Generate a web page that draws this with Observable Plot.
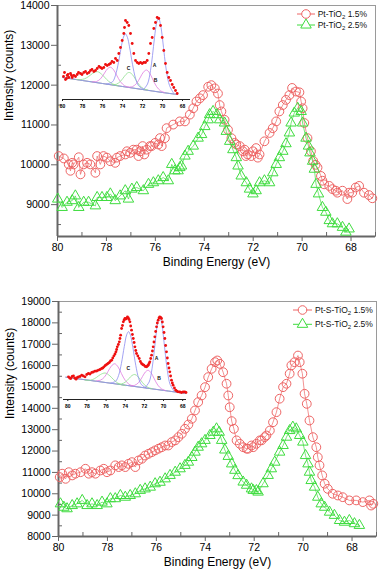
<!DOCTYPE html>
<html>
<head>
<meta charset="utf-8">
<script src="https://cdn.jsdelivr.net/npm/d3@7"></script>
<script src="https://cdn.jsdelivr.net/npm/@observablehq/plot@0.6"></script>
<style>
  html, body { margin: 0; padding: 0; background: #fff; }
  #c { position: relative; width: 380px; height: 571px; overflow: hidden; font-family: "Liberation Sans", Arial, sans-serif; }
  #c > div, #c > svg { position: absolute; }
</style>
</head>
<body>
<div id="c"></div>
<script>
// ---------------- DATA ----------------
const seriesNames = ["Pt-TiO2 1.5%", "Pt-TiO2 2.5%", "Pt-S-TiO2 1.5%", "Pt-S-TiO2 2.5%"];
const energyTicks = [80, 78, 76, 74, 72, 70, 68];
const energyMinor = [79, 77, 75, 73, 71, 69, 67];
const topIntensityTicks = [9000, 10000, 11000, 12000, 13000, 14000];
const topIntensityMinor = [8500, 9500, 10500, 11500, 12500, 13500];
const bottomIntensityTicks = [8000, 9000, 10000, 11000, 12000, 13000, 14000, 15000, 16000, 17000, 18000, 19000];
const bottomIntensityMinor = [8500, 9500, 10500, 11500, 12500, 13500, 14500, 15500, 16500, 17500, 18500];
const insetTicks = [80, 78, 76, 74, 72, 70, 68];

// [binding energy eV, intensity counts]
const ptTiO2_15 = [[79.95,10220],[79.74,10160],[79.54,10010],[79.47,9850],[79.40,10050],[79.34,10010],[79.13,10190],[79.06,9760],[78.93,10010],[78.79,10050],[78.66,10010],[78.45,9800],[78.38,10220],[78.25,10010],[78.12,10220],[77.98,10180],[77.84,10090],[77.64,10050],[77.57,10180],[77.44,10220],[77.23,10260],[77.16,10340],[77.03,10300],[76.90,10380],[76.76,10380],[76.69,10220],[76.62,10340],[76.52,10470],[76.45,10260],[76.35,10380],[76.22,10470],[76.15,10470],[76.01,10550],[75.88,10510],[75.81,10670],[75.74,10470],[75.61,10670],[75.54,10920],[75.27,11010],[75.00,11090],[74.79,11090],[74.59,11260],[74.45,11420],[74.32,11590],[74.18,11670],[74.05,11750],[73.84,11960],[73.71,12000],[73.57,11920],[73.44,11790],[73.37,11500],[73.30,11340],[73.17,11130],[73.03,10880],[72.89,10670],[72.76,10550],[72.69,10510],[72.55,10470],[72.42,10340],[72.35,10380],[72.30,10220],[72.22,10260],[72.08,10220],[72.01,10340],[71.88,10420],[71.81,10180],[71.74,10260],[71.54,10590],[71.33,10800],[71.20,10920],[71.06,11090],[70.93,11340],[70.79,11500],[70.66,11630],[70.52,11750],[70.41,11930],[70.25,11840],[70.11,11820],[70.04,11590],[69.98,11420],[69.91,11050],[69.78,10670],[69.64,10340],[69.55,10100],[69.45,10000],[69.37,9930],[69.23,9720],[69.17,9600],[69.10,9510],[68.89,9470],[68.76,9390],[68.62,9350],[68.56,9300],[68.35,9350],[68.15,9140],[68.08,9300],[67.95,9300],[67.81,9430],[67.67,9470],[67.47,9300],[67.27,9240],[67.13,9160]];

const ptTiO2_25 = [[79.99,9140],[79.81,8930],[79.61,9060],[79.40,9100],[79.27,9220],[79.13,8930],[78.93,9060],[78.73,9060],[78.45,8970],[78.38,9180],[78.18,9180],[77.98,9180],[77.84,9270],[77.64,9100],[77.44,9220],[77.23,9350],[77.10,9140],[76.96,9390],[76.76,9430],[76.49,9350],[76.28,9510],[76.08,9550],[75.88,9600],[75.68,9680],[75.47,9600],[75.33,10010],[75.20,9850],[75.07,9850],[75.00,9930],[74.93,9970],[74.79,10220],[74.66,10340],[74.45,10470],[74.25,10670],[74.11,10760],[73.98,10960],[73.84,11130],[73.78,11260],[73.64,11340],[73.48,11260],[73.37,11130],[73.17,11050],[73.10,10840],[72.96,10590],[72.83,10380],[72.69,10180],[72.62,9970],[72.49,9720],[72.28,9550],[72.15,9390],[72.01,9270],[71.88,9350],[71.74,9550],[71.54,9600],[71.33,9550],[71.20,9800],[71.06,10010],[70.93,10180],[70.79,10340],[70.66,10530],[70.52,10800],[70.45,11050],[70.32,11300],[70.18,11420],[70.04,11340],[69.98,11050],[69.84,10670],[69.74,10470],[69.68,10300],[69.57,10090],[69.50,9890],[69.43,9510],[69.33,9270],[69.17,8930],[69.03,8810],[68.89,8600],[68.76,8520],[68.56,8520],[68.35,8430],[68.21,8310],[68.08,8390]];

const ptSTiO2_15 = [[79.95,10780],[79.85,10940],[79.71,10700],[79.58,11010],[79.44,10860],[79.31,10940],[79.10,11010],[78.90,11170],[78.76,10940],[78.63,11010],[78.49,10940],[78.29,11090],[78.15,11170],[78.02,11010],[77.88,11090],[77.68,11330],[77.54,11250],[77.41,11330],[77.27,11250],[77.14,11400],[77.00,11480],[76.86,11250],[76.73,11560],[76.59,11640],[76.46,11790],[76.32,11870],[76.18,11950],[76.05,12030],[75.91,12110],[75.78,12180],[75.64,12260],[75.51,12260],[75.37,12420],[75.23,12500],[75.10,12650],[74.96,12810],[74.83,13040],[74.69,13240],[74.55,13510],[74.42,13900],[74.29,14290],[74.15,14600],[74.01,14990],[73.88,15460],[73.74,15850],[73.60,16160],[73.51,16240],[73.40,16080],[73.27,15690],[73.13,15150],[73.06,14600],[73.00,14050],[72.92,13400],[72.83,13040],[72.72,12500],[72.59,12340],[72.45,12180],[72.31,12110],[72.25,12110],[72.11,12260],[72.04,12180],[71.91,12340],[71.77,12500],[71.70,12500],[71.57,12650],[71.50,12730],[71.36,12960],[71.23,13350],[71.09,13820],[70.96,14450],[70.82,14990],[70.68,15150],[70.55,15620],[70.48,16010],[70.35,16160],[70.21,16470],[70.14,16160],[70.03,15620],[69.94,14680],[69.85,14210],[69.74,13430],[69.60,12650],[69.46,12180],[69.40,11710],[69.33,11330],[69.22,10860],[69.12,10470],[68.99,10230],[68.79,10000],[68.58,9920],[68.38,9840],[68.11,9690],[67.83,9690],[67.56,9610],[67.29,9690],[67.22,9450],[67.13,9530]];

const ptSTiO2_25 = [[79.92,9530],[79.78,9370],[79.65,9300],[79.44,9450],[79.24,9530],[79.03,9690],[78.83,9450],[78.63,9530],[78.42,9450],[78.22,9610],[78.02,9530],[77.88,9770],[77.68,9770],[77.47,9920],[77.27,9840],[77.07,9920],[76.86,10000],[76.66,10160],[76.46,10230],[76.25,10310],[76.05,10470],[75.85,10540],[75.64,10700],[75.44,10860],[75.23,11010],[75.03,11170],[74.83,11330],[74.69,11480],[74.55,11700],[74.42,11950],[74.29,12180],[74.15,12340],[74.01,12500],[73.81,12730],[73.67,12880],[73.54,13040],[73.43,12880],[73.33,12500],[73.20,12050],[73.06,11750],[72.92,11400],[72.79,11100],[72.66,10850],[72.45,10550],[72.31,10400],[72.11,10230],[72.04,10160],[71.91,10150],[71.84,10080],[71.64,10470],[71.43,10860],[71.30,11170],[71.16,11480],[70.96,11950],[70.82,12260],[70.68,12650],[70.55,12960],[70.42,13120],[70.28,13040],[70.14,12730],[70.01,12420],[69.90,11790],[69.80,11400],[69.74,11010],[69.67,10620],[69.53,10310],[69.40,9840],[69.26,9530],[69.12,9370],[68.92,9140],[68.72,8990],[68.51,8750],[68.31,8670],[68.11,8750],[67.90,8600],[67.70,8520]];

// Insets: [binding energy eV, intensity a.u.]
const insetTopPoints = [[79.9,23],[79.8,27],[79.7,20],[79.6,21],[79.53,24],[79.45,25],[79.37,22],[79.2,26],[79.1,24],[79.03,22],[78.87,24],[78.7,23],[78.53,25],[78.4,27],[78.2,26],[78.05,25],[77.87,27],[77.7,28],[77.53,26],[77.35,27],[77.2,29],[77.05,30],[76.87,28],[76.7,29],[76.53,31],[76.35,33],[76.2,32],[76.05,31],[75.87,32],[75.7,35],[75.53,34],[75.35,35],[75.2,36],[75.05,38],[74.87,37],[74.7,41],[74.53,39],[74.37,46],[74.2,52],[74.03,59],[73.87,66],[73.8,72],[73.7,79],[73.53,77],[73.37,74],[73.2,66],[73.03,56],[72.87,46],[72.7,39],[72.53,37],[72.37,36],[72.2,37],[72.03,36],[71.87,37],[71.7,37],[71.53,39],[71.37,46],[71.2,56],[71.03,62],[70.87,71],[70.7,77],[70.53,82],[70.37,81],[70.2,74],[70.03,62],[69.87,49],[69.7,36],[69.53,27],[69.37,22],[69.2,19],[69.03,15],[68.87,12],[68.7,9],[68.53,6]];
const insetTopBaseline = [[80.0,22],[78.0,19],[76.0,16],[74.0,13],[72.0,10],[70.0,7],[68.5,5]];
const insetTopPeak1 = [[75.6,15.5],[75.0,17.7],[74.7,24.3],[74.4,37.2],[74.1,53.9],[73.9,62.5],[73.7,65.6],[73.5,61.9],[73.3,52.7],[73.0,35.2],[72.7,21.3],[72.4,13.9],[71.9,10.2]];
const insetTopPeakA = [[71.9,10],[71.5,15.5],[71.2,29],[71.0,44],[70.8,62],[70.6,76],[70.4,82],[70.2,75],[70.0,61],[69.8,43],[69.6,28],[69.3,14],[68.9,6.5]];
const insetTopPeakB = [[73.4,12.4],[73.0,12.9],[72.6,16],[72.2,22.5],[71.9,27.5],[71.6,29.5],[71.3,26.6],[71.0,20.7],[70.6,13],[70.2,8.7],[69.8,7]];
const insetTopPeakC = [[75.0,14.8],[74.6,15.3],[74.2,18.2],[73.8,23.3],[73.5,26.5],[73.3,27],[73.0,24.8],[72.7,20.2],[72.3,14.2],[71.9,10.9],[71.5,9.5]];
const insetTopPeak2 = [[77.0,17.7],[76.6,18],[76.2,20.7],[75.8,26.4],[75.5,30.7],[75.2,32.3],[74.9,29.8],[74.6,24.6],[74.2,17.7],[73.8,13.8],[73.4,12.4]];
const insetTopPeak3 = [[78.6,20],[78.2,19.9],[77.8,20.7],[77.4,22.9],[77.0,26],[76.5,27.8],[76.0,24.5],[75.6,20.2],[75.2,16.8],[74.8,14.8],[74.4,13.7]];
const insetTopLabels = [[70.8,34,"A"],[70.7,19,"B"],[73.4,31,"C"]];

const insetBottomPoints = [[79.93,22.7],[79.81,21.5],[79.69,21],[79.55,23],[79.41,23.7],[79.28,21.5],[79.14,20.3],[79.0,22],[78.89,22.7],[78.72,23],[78.55,24.3],[78.38,23.5],[78.2,22.7],[78.02,25],[77.85,26],[77.68,25.5],[77.5,27],[77.33,27.5],[77.16,28.3],[76.98,28.5],[76.81,29.3],[76.63,30],[76.46,31],[76.34,31.5],[76.22,32.7],[76.08,34],[75.94,35],[75.8,36],[75.66,37],[75.54,38.5],[75.42,39.3],[75.3,41.5],[75.18,43.7],[75.07,45.5],[74.97,47.7],[74.9,50],[74.83,52.7],[74.72,55],[74.62,57.7],[74.55,61],[74.48,64.3],[74.38,71],[74.29,74],[74.2,77.7],[74.12,79.5],[74.03,81],[73.95,80.5],[73.86,81],[73.77,82.5],[73.68,81.7],[73.6,80],[73.51,77.7],[73.43,73.5],[73.34,69.3],[73.25,65],[73.16,61],[73.07,57],[72.99,52.7],[72.9,49],[72.82,46],[72.68,43.5],[72.54,41],[72.42,38],[72.3,36],[72.18,35],[72.05,34.3],[71.91,33],[71.77,32.7],[71.68,33.5],[71.6,34.3],[71.51,36],[71.43,37.7],[71.34,41],[71.25,44.3],[71.16,48.5],[71.08,52.7],[71.0,57.5],[70.91,62.7],[70.82,68],[70.73,72.7],[70.65,76.5],[70.56,79.3],[70.47,81.5],[70.39,82.7],[70.3,82],[70.21,81],[70.12,77.5],[70.04,72.7],[69.95,67],[69.86,61],[69.78,54],[69.69,47.7],[69.6,41.5],[69.52,36],[69.43,31.5],[69.34,27.7],[69.26,23.5],[69.17,19.3],[69.08,16.5],[69.0,14.3],[68.86,11.5],[68.72,9.3],[68.6,8.3],[68.48,7.7],[68.3,7.5],[68.13,7],[67.95,7.5],[67.78,7.7],[67.65,7]];
const insetBottomBaseline = [[80.2,22.3],[78.0,19.5],[76.0,16.9],[74.0,14.3],[72.0,11.7],[70.0,9.1],[68.0,6.5],[67.7,6.1]];
const insetBottomPeak1 = [[75.5,16.5],[75.0,18.3],[74.7,23.9],[74.4,36.1],[74.1,53],[73.85,64.7],[73.65,67.9],[73.45,64.2],[73.2,51.9],[72.9,34.2],[72.6,21.2],[72.3,14.8],[71.8,11.6]];
const insetBottomPeakA = [[71.9,12.3],[71.5,17.5],[71.2,30.9],[71.0,45.9],[70.8,63.1],[70.6,77.3],[70.4,82.6],[70.2,76.8],[70.0,62.1],[69.8,44.3],[69.6,28.9],[69.3,14.7],[68.9,8.5]];
const insetBottomPeakB = [[73.4,13.7],[73.0,14.2],[72.6,17],[72.2,22.9],[71.9,27.5],[71.6,29.2],[71.3,26.7],[71.0,21.3],[70.6,14.4],[70.2,10.6],[69.8,9]];
const insetBottomPeakC = [[74.8,15.6],[74.4,15.6],[74.0,17.3],[73.6,21.1],[73.3,24],[73.0,25],[72.7,23.2],[72.4,19.5],[72.0,14.7],[71.6,12],[71.2,10.9]];
const insetBottomPeak2 = [[77.0,18.7],[76.6,19.3],[76.2,22.1],[75.8,28],[75.45,33.5],[75.1,35.75],[74.75,32.6],[74.4,26],[74.0,19.1],[73.6,15.2],[73.2,13.6]];
const insetBottomPeak3 = [[78.2,19.3],[77.8,19.2],[77.4,20],[77.0,22.1],[76.6,24.9],[76.1,26.5],[75.6,23.6],[75.2,19.7],[74.8,16.6],[74.4,14.8],[74.0,13.9]];
const insetBottomLabels = [[70.73,40.7,"A"],[70.46,20.7,"B"],[73.69,30.7,"C"]];

// ---------------- STYLE ----------------
const RED = "#ee6464";
const GREEN = "#3fdc3f";
const FONT = "'Liberation Sans', Arial, Helvetica, sans-serif";
const AXIS = "#666";
const cBlue = "#8c8cf0", cPink = "#e07be0", cGreen = "#8ede8e";

const byE = arr => arr.slice().sort((a, b) => b[0] - a[0]);
const X = d => d[0], Y = d => d[1];

function mainPanel({s1, s2, yDomain, yTicks, yMinor, width, height, mt, mb, ml, mr}) {
  const pw = width - ml - mr, ph = height - mt - mb;
  return Plot.plot({
    width, height, marginTop: mt, marginBottom: mb, marginLeft: ml, marginRight: mr,
    style: {fontFamily: FONT, fontSize: "10.5px", background: "transparent", color: "#000", overflow: "visible"},
    x: {domain: [80, 67], label: null},
    y: {domain: yDomain, label: null},
    marks: [
      Plot.frame({stroke: "#9a9a9a", strokeWidth: 1}),
      Plot.tickX(energyMinor, {x: d => d, insetTop: ph - 4, stroke: AXIS, strokeWidth: 1}),
      Plot.tickY(yMinor, {y: d => d, insetRight: pw - 4, stroke: AXIS, strokeWidth: 1}),
      Plot.axisX({ticks: energyTicks, tickSize: 5, tickPadding: 2, tickFormat: d => String(d), stroke: AXIS, fill: "#000", fontSize: 10.5, label: null}),
      Plot.axisY({ticks: yTicks, tickSize: 6, tickPadding: 2, tickFormat: d => String(d), stroke: AXIS, fill: "#000", fontSize: 10.5, label: null}),
      Plot.ruleX([80], {stroke: AXIS, strokeWidth: 2}),
      Plot.ruleY([yDomain[0]], {stroke: AXIS, strokeWidth: 2}),
      Plot.text(["Intensity (counts)"], {frameAnchor: "left", rotate: -90, dx: -48, fontSize: 12, fill: "#000"}),
      Plot.text(["Binding Energy (eV)"], {frameAnchor: "bottom", dy: 29, fontSize: 12, fill: "#000"}),
      Plot.line(byE(s1), {x: X, y: Y, stroke: RED, strokeWidth: 0.7}),
      Plot.dot(s1, {x: X, y: Y, r: 4.4, stroke: RED, strokeWidth: 1, fill: "none"}),
      Plot.line(byE(s2), {x: X, y: Y, stroke: GREEN, strokeWidth: 0.7}),
      Plot.dot(s2, {x: X, y: Y, r: 3.9, symbol: "triangle", stroke: GREEN, strokeWidth: 1, fill: "none"})
    ]
  });
}

function insetPanel({pts, base, p1, pA, pB, pC, p2, p3, labels, xDomain, width, ml, mr}) {
  const comp = (d, c) => Plot.line(d, {x: X, y: Y, stroke: c, strokeWidth: 0.8, curve: "catmull-rom"});
  return Plot.plot({
    width, height: 113, marginTop: 9, marginBottom: 14, marginLeft: ml, marginRight: mr,
    style: {fontFamily: FONT, fontSize: "5px", background: "transparent", overflow: "visible"},
    x: {domain: xDomain, label: null},
    y: {domain: [0, 90], label: null, axis: null},
    marks: [
      Plot.ruleY([0], {stroke: "#222", strokeWidth: 1}),
      Plot.axisX({ticks: insetTicks, tickSize: 2, tickPadding: 3, tickFormat: d => String(d), stroke: "#222", fill: "#000", fontSize: 5, fontWeight: "bold", label: null}),
      comp(base, cPink), comp(base, cGreen), comp(base, cBlue),
      comp(p3, cGreen), comp(p2, cPink), comp(pC, cGreen), comp(pB, cPink), comp(p1, cBlue), comp(pA, cBlue),
      Plot.dot(pts, {x: X, y: Y, r: 1.4, fill: "#ee1010", stroke: "none"}),
      Plot.text(labels, {x: d => d[0], y: d => d[1], text: d => d[2], fontSize: 5, fontWeight: "bold", fill: "#111"})
    ]
  });
}

const c = document.getElementById("c");
function place(node, left, top) { node.style.position = "absolute"; node.style.left = left + "px"; node.style.top = top + "px"; c.appendChild(node); return node; }

place(mainPanel({s1: ptTiO2_15, s2: ptTiO2_25, yDomain: [8200, 14000], yTicks: topIntensityTicks, yMinor: topIntensityMinor,
  width: 380, height: 275, mt: 5, mb: 39, ml: 57, mr: 5}), 0, 0);
place(mainPanel({s1: ptSTiO2_15, s2: ptSTiO2_25, yDomain: [8000, 19000], yTicks: bottomIntensityTicks, yMinor: bottomIntensityMinor,
  width: 380, height: 291, mt: 21, mb: 35, ml: 58, mr: 4}), 0, 280);

place(insetPanel({pts: insetTopPoints, base: insetTopBaseline, p1: insetTopPeak1, pA: insetTopPeakA, pB: insetTopPeakB,
  pC: insetTopPeakC, p2: insetTopPeak2, p3: insetTopPeak3, labels: insetTopLabels, xDomain: [80, 67.2], width: 145, ml: 12, mr: 5}), 50, 0);
place(insetPanel({pts: insetBottomPoints, base: insetBottomBaseline, p1: insetBottomPeak1, pA: insetBottomPeakA, pB: insetBottomPeakB,
  pC: insetBottomPeakC, p2: insetBottomPeak2, p3: insetBottomPeak3, labels: insetBottomLabels, xDomain: [80.45, 67.6], width: 141, ml: 13, mr: 5}), 50, 300);

// ---------------- LEGENDS ----------------
function legend(names, left, top, lineW, textX, rowGap) {
  const ns = "http://www.w3.org/2000/svg";
  const svg = document.createElementNS(ns, "svg");
  svg.setAttribute("width", 90); svg.setAttribute("height", 34);
  svg.style.overflow = "visible";
  names.forEach((name, i) => {
    const y = 8 + i * rowGap;
    const color = i === 0 ? RED : GREEN;
    const ln = document.createElementNS(ns, "line");
    ln.setAttribute("x1", 2); ln.setAttribute("x2", 2 + lineW); ln.setAttribute("y1", y); ln.setAttribute("y2", y);
    ln.setAttribute("stroke", color); ln.setAttribute("stroke-width", 1);
    svg.appendChild(ln);
    const cx = 2 + lineW / 2;
    let sym;
    if (i === 0) {
      sym = document.createElementNS(ns, "circle");
      sym.setAttribute("cx", cx); sym.setAttribute("cy", y); sym.setAttribute("r", 4.3);
    } else {
      sym = document.createElementNS(ns, "path");
      sym.setAttribute("d", d3.symbol(d3.symbolTriangle, 3.9 * 3.9 * Math.PI)());
      sym.setAttribute("transform", `translate(${cx},${y})`);
    }
    sym.setAttribute("fill", "#fff"); sym.setAttribute("stroke", color); sym.setAttribute("stroke-width", 1);
    svg.appendChild(sym);
    const [pre, post] = name.split("2 ");
    const t = document.createElementNS(ns, "text");
    t.setAttribute("x", textX); t.setAttribute("y", y + 3);
    t.setAttribute("font-size", 8.5); t.setAttribute("font-family", FONT); t.setAttribute("fill", "#111");
    t.innerHTML = `${pre}<tspan font-size="6" dy="2">2</tspan><tspan dy="-2"> ${post}</tspan>`;
    svg.appendChild(t);
  });
  place(svg, left, top);
}
legend([seriesNames[0], seriesNames[1]], 295, 6, 18, 22.7, 11);
legend([seriesNames[2], seriesNames[3]], 291, 302, 19, 24, 14.3);
</script>
</body>
</html>
